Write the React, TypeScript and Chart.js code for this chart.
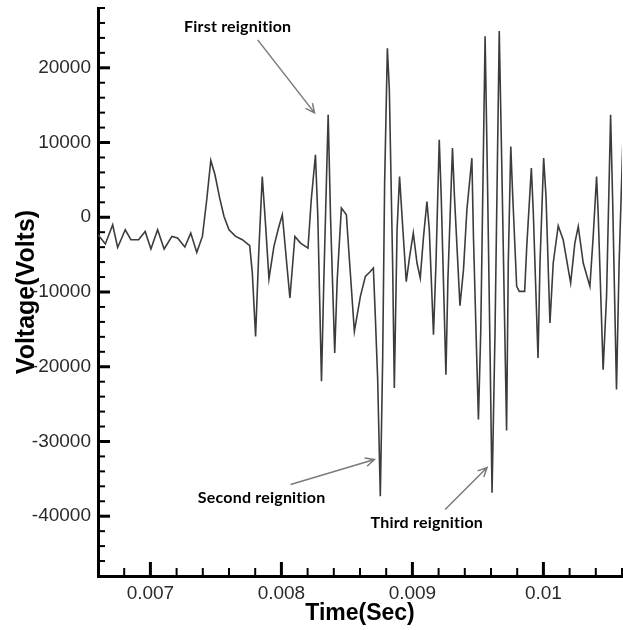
import React, { useEffect, useRef } from "react";
import { Chart, registerables } from "chart.js";

Chart.register(...registerables);

// ---- data ----
const timeSec = [
  0.0066, 0.006656, 0.006712, 0.00675, 0.006808, 0.006851, 0.00691, 0.00696, 0.007004, 0.007055,
  0.007105, 0.007164, 0.007207, 0.007263, 0.007308, 0.007354, 0.007397, 0.00743, 0.007461, 0.007493,
  0.007529, 0.007562, 0.0076, 0.007651, 0.007702, 0.007758, 0.007778, 0.007803, 0.007828, 0.007854,
  0.00788, 0.007905, 0.007943, 0.007981, 0.008007, 0.008045, 0.008065, 0.008103, 0.008146, 0.008203,
  0.008228, 0.00826, 0.008278, 0.008306, 0.008324, 0.008357, 0.008375, 0.008407, 0.008426, 0.008458,
  0.008496, 0.008514, 0.008557, 0.008603, 0.008641, 0.008679, 0.008702, 0.008717, 0.008735, 0.008755,
  0.008773, 0.008788, 0.008809, 0.008824, 0.008849, 0.008862, 0.008883, 0.008902, 0.008921, 0.008953,
  0.008979, 0.009007, 0.009035, 0.00906, 0.009085, 0.009111, 0.009129, 0.009161, 0.00918, 0.009205,
  0.00922, 0.009256, 0.009271, 0.009306, 0.009321, 0.009363, 0.00939, 0.009416, 0.009454, 0.009466,
  0.009504, 0.009522, 0.009555, 0.009573, 0.009593, 0.009608, 0.009631, 0.009663, 0.009682, 0.009719,
  0.009732, 0.009751, 0.009766, 0.009796, 0.009816, 0.009857, 0.009873, 0.009908, 0.009923, 0.009959,
  0.009974, 0.010002, 0.01002, 0.01005, 0.010075, 0.010113, 0.010151, 0.010208, 0.01024, 0.010266,
  0.010304, 0.010355, 0.01038, 0.010406, 0.010418, 0.010456, 0.010482, 0.010513, 0.010528, 0.010558,
  0.010578, 0.010606,
];

const voltage = [
  -2340, -3580, -1000, -4040, -1670, -3000, -3000, -1900, -4250, -1670,
  -4250, -2560, -2780, -3990, -2120, -4700, -2560, 2340, 7600, 5680,
  2560, 100, -1670, -2560, -3000, -3810, -7420, -15940, -4340, 5450,
  -1230, -8220, -3900, -1230, 330, -7020, -10800, -2570, -3450, -4120,
  2340, 8360, 100, -21950, -8360, 13700, 100, -18150, -8360, 1230,
  330, -4340, -15270, -10590, -7910, -7250, -6790, -13260, -21720, -37330,
  -19050, 4570, 22620, 17050, -6120, -22830, -1670, 5450, 100, -8620,
  -5240, -2110, -6120, -8130, -2570, 2110, -1670, -15710, -6120, 10360,
  2780, -21060, -8360, 9250, 2780, -11830, -7020, 1000, 7910, -2570,
  -27070, -15040, 24220, 5010, -18150, -36870, -15040, 24930, 7250, -28540,
  -6120, 9470, 2780, -9250, -9920, -9920, -3900, 6580, 560, -18820,
  -6120, 7910, 2780, -14140, -6120, -1140, -3010, -8800, -3450, -1230,
  -6120, -9250, -2570, 5450, 560, -20390, -10590, 13700, 2780, -23060,
  -6120, 9920,
];

const xMin = 0.0066;
const xMax = 0.0106;
const yMin = -48000;
const yMax = 28000;

const xTickMarks = [
  0.0066, 0.0068, 0.007, 0.0072, 0.0074, 0.0076, 0.0078, 0.008, 0.0082, 0.0084, 0.0086,
  0.0088, 0.009, 0.0092, 0.0094, 0.0096, 0.0098, 0.01, 0.0102, 0.0104, 0.0106,
];
const xMajorTicks = [0.007, 0.008, 0.009, 0.01];
const xTickLabels = ["0.007", "0.008", "0.009", "0.01"];

const yTickMarks = [
  -48000, -46000, -44000, -42000, -40000, -38000, -36000, -34000, -32000, -30000,
  -28000, -26000, -24000, -22000, -20000, -18000, -16000, -14000, -12000, -10000,
  -8000, -6000, -4000, -2000, 0, 2000, 4000, 6000, 8000, 10000,
  12000, 14000, 16000, 18000, 20000, 22000, 24000, 26000, 28000,
];
const yMajorTicks = [-40000, -30000, -20000, -10000, 0, 10000, 20000];
const yTickLabels = ["-40000", "-30000", "-20000", "-10000", "0", "10000", "20000"];

const xTitle = "Time(Sec)";
const yTitle = "Voltage(Volts)";

const noteTexts = ["First reignition", "Second reignition", "Third reignition"];
const noteTextX = [0.007666, 0.007849, 0.00911];
const noteTextY = [25470, -37500, -40840];
const arrowFromX = [0.007819, 0.00807, 0.00925];
const arrowFromY = [23730, -35760, -39100];
const arrowToX = [0.008253, 0.00871, 0.00957];
const arrowToY = [13970, -32420, -33490];

const isIn = (arr: number[], v: number) => arr.some((m) => Math.abs(m - v) < 1e-9);

const inwardTicks = {
  id: "inwardTicks",
  afterDraw(chart: any) {
    const { ctx, chartArea } = chart;
    const xs = chart.scales.x;
    const ys = chart.scales.y;
    ctx.save();
    ctx.strokeStyle = "#000";
    for (const v of xTickMarks) {
      const major = isIn(xMajorTicks, v);
      const px = xs.getPixelForValue(v);
      ctx.lineWidth = major ? 3 : 2;
      ctx.beginPath();
      ctx.moveTo(px, chartArea.bottom);
      ctx.lineTo(px, chartArea.bottom - (major ? 14 : 8));
      ctx.stroke();
    }
    for (const v of yTickMarks) {
      const major = isIn(yMajorTicks, v);
      const py = ys.getPixelForValue(v);
      ctx.lineWidth = major ? 3 : 2;
      ctx.beginPath();
      ctx.moveTo(chartArea.left, py);
      ctx.lineTo(chartArea.left + (major ? 12 : 7), py);
      ctx.stroke();
    }
    ctx.restore();
  },
};

const notes = {
  id: "notes",
  afterDraw(chart: any) {
    const { ctx } = chart;
    const xs = chart.scales.x;
    const ys = chart.scales.y;
    ctx.save();
    ctx.strokeStyle = "#7a7a7a";
    ctx.lineWidth = 1.5;
    for (let i = 0; i < noteTexts.length; i++) {
      const x0 = xs.getPixelForValue(arrowFromX[i]);
      const y0 = ys.getPixelForValue(arrowFromY[i]);
      const x1 = xs.getPixelForValue(arrowToX[i]);
      const y1 = ys.getPixelForValue(arrowToY[i]);
      ctx.beginPath();
      ctx.moveTo(x0, y0);
      ctx.lineTo(x1, y1);
      const a = Math.atan2(y1 - y0, x1 - x0);
      const L = 10;
      ctx.moveTo(x1 - L * Math.cos(a - 0.45), y1 - L * Math.sin(a - 0.45));
      ctx.lineTo(x1, y1);
      ctx.lineTo(x1 - L * Math.cos(a + 0.45), y1 - L * Math.sin(a + 0.45));
      ctx.stroke();
    }
    ctx.fillStyle = "#000";
    ctx.font = "bold 16px Lato, 'Open Sans', sans-serif";
    try {
      (ctx as any).letterSpacing = "0.2px";
    } catch (e) {}
    ctx.textAlign = "center";
    ctx.textBaseline = "middle";
    for (let i = 0; i < noteTexts.length; i++) {
      ctx.fillText(noteTexts[i], xs.getPixelForValue(noteTextX[i]), ys.getPixelForValue(noteTextY[i]));
    }
    ctx.restore();
  },
};

export default function App() {
  const ref = useRef<HTMLCanvasElement | null>(null);

  useEffect(() => {
    if (!ref.current) return;
    const chart = new Chart(ref.current, {
      type: "line",
      data: {
        datasets: [
          {
            data: timeSec.map((t, i) => ({ x: t, y: voltage[i] })),
            borderColor: "#3c3c3c",
            borderWidth: 1.6,
            pointRadius: 0,
            tension: 0,
            fill: false,
          },
        ],
      },
      options: {
        animation: false,
        responsive: false,
        devicePixelRatio: 1,
        layout: { padding: { top: 8, right: 1, left: 0, bottom: 0 } },
        plugins: {
          legend: { display: false },
          tooltip: { enabled: false },
        },
        scales: {
          x: {
            type: "linear",
            min: xMin,
            max: xMax,
            afterBuildTicks: (scale: any) => {
              scale.ticks = xMajorTicks.map((value) => ({ value }));
            },
            afterFit: (scale: any) => {
              scale.height = 54;
              scale.paddingLeft = 0;
              scale.paddingRight = 0;
            },
            ticks: {
              autoSkip: false,
              maxRotation: 0,
              padding: 6,
              color: "#2a2a2a",
              font: { family: "'Liberation Sans', Arial, sans-serif", size: 19 },
              callback: (_v: any, i: number) => xTickLabels[i],
            },
            grid: { drawOnChartArea: false, drawTicks: false, color: "rgba(0,0,0,0)" },
            border: { display: true, color: "#000", width: 3 },
            title: {
              display: true,
              text: xTitle,
              color: "#000",
              font: { family: "'Liberation Sans', Arial, sans-serif", size: 23, weight: "bold" },
              padding: { top: 0, bottom: 3 },
            },
          },
          y: {
            type: "linear",
            min: yMin,
            max: yMax,
            afterBuildTicks: (scale: any) => {
              scale.ticks = yMajorTicks.map((value) => ({ value }));
            },
            afterFit: (scale: any) => {
              scale.width = 98;
              scale.paddingTop = 0;
              scale.paddingBottom = 0;
            },
            ticks: {
              autoSkip: false,
              padding: 7,
              color: "#2a2a2a",
              font: { family: "'Liberation Sans', Arial, sans-serif", size: 19 },
              callback: (_v: any, i: number) => yTickLabels[i],
            },
            grid: { drawOnChartArea: false, drawTicks: false, color: "rgba(0,0,0,0)" },
            border: { display: true, color: "#000", width: 3 },
            title: {
              display: true,
              text: yTitle,
              color: "#000",
              font: { family: "'Liberation Sans', Arial, sans-serif", size: 25, weight: "bold" },
              padding: { top: 12, bottom: 0 },
            },
          },
        },
      },
      plugins: [inwardTicks, notes],
    });
    return () => chart.destroy();
  }, []);

  return (
    <div style={{ position: "fixed", left: 0, top: 0, width: 623, height: 630, background: "#fff" }}>
      <canvas ref={ref} width={623} height={630} style={{ display: "block" }} />
    </div>
  );
}
